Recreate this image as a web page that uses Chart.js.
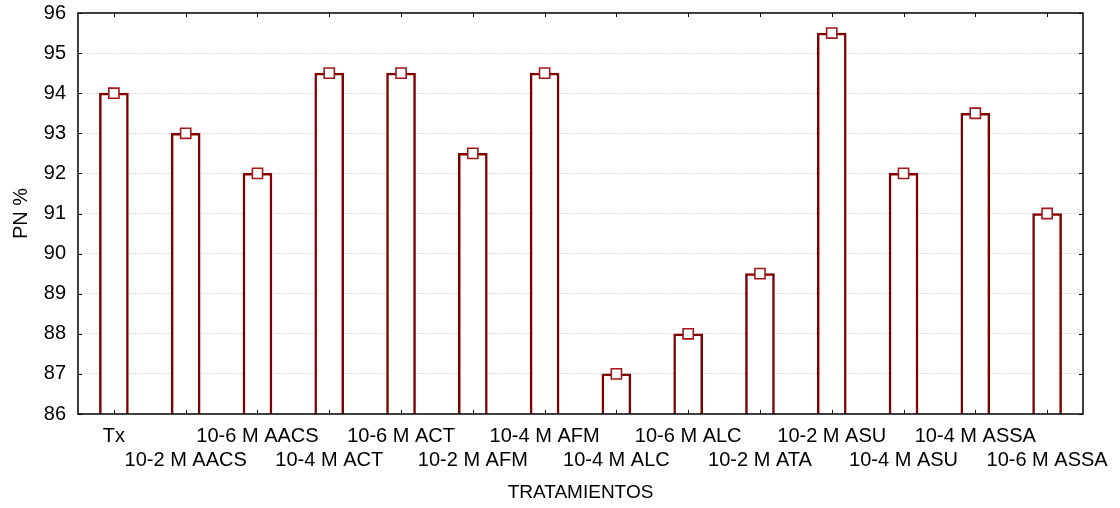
<!DOCTYPE html>
<html>
<head>
<meta charset="utf-8">
<script src="https://cdn.jsdelivr.net/npm/chart.js@4/dist/chart.umd.min.js"></script>
<style>
  html, body { margin: 0; padding: 0; background: #fff; }
  #wrap { width: 1120px; height: 508px; }
</style>
</head>
<body>
<div id="wrap"><canvas id="graph" width="1120" height="508"></canvas></div>
<script>
var tratamientos = ["Tx", "10-2 M AACS", "10-6 M AACS", "10-4 M ACT", "10-6 M ACT",
  "10-2 M AFM", "10-4 M AFM", "10-4 M ALC", "10-6 M ALC", "10-2 M ATA",
  "10-2 M ASU", "10-4 M ASU", "10-4 M ASSA", "10-6 M ASSA"];
var pn = [94, 93, 92, 94.5, 94.5, 92.5, 94.5, 87, 88, 89.5, 95.5, 92, 93.5, 91];
var yTicks = [86, 87, 88, 89, 90, 91, 92, 93, 94, 95, 96];

var rojo = "#800000";
var fuente = "'Liberation Sans', Arial, sans-serif";

// alternate labels between two rows so they don't collide
var etiquetas = tratamientos.map(function (t, i) { return i % 2 ? ["", t] : [t]; });

// frame around the plot plus the short inward tick marks on all four sides
var marco = {
  id: "marco",
  afterDatasetsDraw: function (chart) {
    var ctx = chart.ctx, a = chart.chartArea;
    var x = chart.scales.x, y = chart.scales.y;
    ctx.save();
    ctx.strokeStyle = "#000";
    ctx.lineWidth = 1;
    x.ticks.forEach(function (t, i) {
      var px = Math.round(x.getPixelForTick(i)) + 0.5;
      ctx.beginPath();
      ctx.moveTo(px, a.bottom); ctx.lineTo(px, a.bottom - 4);
      ctx.moveTo(px, a.top); ctx.lineTo(px, a.top + 4);
      ctx.stroke();
    });
    yTicks.forEach(function (v) {
      var py = Math.round(y.getPixelForValue(v)) + 0.5;
      ctx.beginPath();
      ctx.moveTo(a.left, py); ctx.lineTo(a.left + 4, py);
      ctx.moveTo(a.right, py); ctx.lineTo(a.right - 4, py);
      ctx.stroke();
    });
    ctx.lineWidth = 1.5;
    ctx.strokeRect(a.left, a.top, a.right - a.left, a.bottom - a.top);
    ctx.restore();
  }
};

Chart.defaults.font.family = fuente;
Chart.defaults.color = "#000";

new Chart(document.getElementById("graph").getContext("2d"), {
  type: "bar",
  data: {
    labels: etiquetas,
    datasets: [
      {
        type: "line",
        data: pn,
        showLine: false,
        pointStyle: "rect",
        pointRadius: 7.2,
        pointBorderWidth: 1.6,
        pointBackgroundColor: "#fff",
        pointBorderColor: "#a01818",
        order: 0
      },
      {
        data: pn,
        backgroundColor: "#fff",
        borderColor: rojo,
        borderWidth: 2.5,
        borderSkipped: "bottom",
        barThickness: 29,
        order: 1
      }
    ]
  },
  options: {
    responsive: false,
    animation: false,
    layout: { padding: { top: 13, right: 37, left: 0, bottom: 0 } },
    plugins: { legend: { display: false }, tooltip: { enabled: false } },
    scales: {
      x: {
        grid: { display: false, drawTicks: false },
        border: { display: false },
        ticks: { autoSkip: false, maxRotation: 0, minRotation: 0, padding: 11,
          font: { size: 20, lineHeight: 1.18 } },
        title: { display: true, text: "TRATAMIENTOS", font: { size: 19 }, padding: { top: 11 } },
        afterFit: function (s) { s.height = 94; s.paddingLeft = 0; s.paddingRight = 0; }
      },
      y: {
        min: 86, max: 96,
        afterBuildTicks: function (s) { s.ticks = yTicks.map(function (v) { return { value: v }; }); },
        grid: {
          drawTicks: false,
          color: function (c) { return (c.tick.value === 86 || c.tick.value === 96) ? "rgba(0,0,0,0)" : "#c8c8c8"; },
          lineWidth: 1
        },
        border: { display: false, dash: [1, 2] },
        ticks: { padding: 12, font: { size: 20 } },
        title: { display: true, text: "PN %", font: { size: 20 }, padding: { top: 9, bottom: 0 } },
        afterFit: function (s) { s.width = 78; s.paddingTop = 0; s.paddingBottom = 0; }
      }
    }
  },
  plugins: [marco]
});
</script>
</body>
</html>
